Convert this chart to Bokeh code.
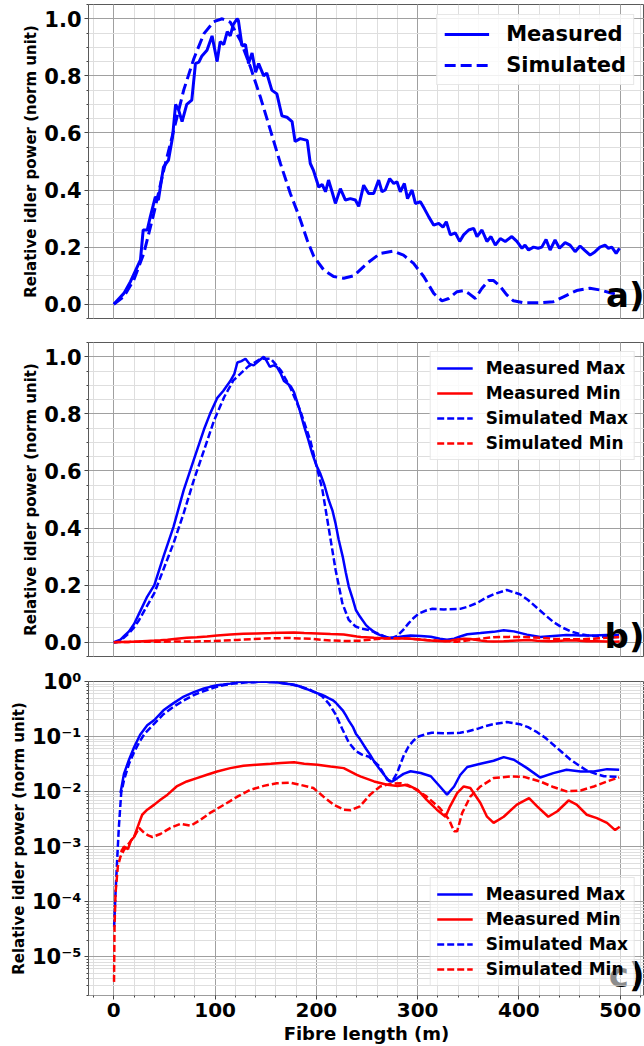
from bokeh.plotting import figure
from bokeh.layouts import column
from bokeh.models import (Range1d, SingleIntervalTicker, FixedTicker, Label,
                          CustomJSTickFormatter, PrintfTickFormatter)
from bokeh.embed import file_html
from bokeh.resources import INLINE

# ---------------- data ----------------
# panel a) measured / simulated relative idler power
a_meas_x = [0, 9.9, 16.4, 23, 26.3, 29, 33, 36, 41, 44, 49, 54, 58, 61, 64, 67.4, 72, 77, 80.6, 84, 87,
            92, 97, 102, 105, 108.6, 112, 115, 118, 121.7, 123, 126.6, 130, 133, 136.5, 140, 143, 148, 151,
            156, 161, 166, 171, 176, 179, 184, 191, 194, 197, 202.4, 205.7, 209, 212, 215.5, 218.8, 223.7,
            228.7, 233.6, 238.5, 241.8, 246.7, 251.6, 256.6, 261.5, 264.8, 268, 272.4, 276.4, 279.6, 282.9,
            286.9, 290, 294.5, 297.8, 302.7, 306.6, 311, 315.9, 320.8, 325, 328.3, 332.3, 337.2, 341.5,
            345.4, 350.4, 355.3, 358.6, 363.5, 368.4, 372.4, 376.7, 381.6, 386.5, 393, 398, 403, 406,
            409.5, 414.4, 419, 422.6, 426.8, 430.8, 435.7, 440, 445.6, 450.5, 455.5, 460.4, 465.3, 470.3,
            475.2, 480, 485, 488.4, 491.7, 496, 499.3]
a_meas_y = [0.0, 0.038, 0.079, 0.13, 0.155, 0.26, 0.26, 0.306, 0.376, 0.365, 0.48, 0.505, 0.585, 0.70,
            0.68, 0.64, 0.70, 0.715, 0.843, 0.848, 0.87, 0.89, 0.94, 0.85, 0.92, 0.91, 0.955, 0.94, 0.98,
            1.0, 0.994, 0.905, 0.91, 0.843, 0.88, 0.813, 0.843, 0.80, 0.81, 0.75, 0.737, 0.66, 0.655, 0.64,
            0.57, 0.58, 0.574, 0.493, 0.47, 0.41, 0.42, 0.394, 0.435, 0.394, 0.353, 0.405, 0.365, 0.37,
            0.365, 0.343, 0.417, 0.388, 0.388, 0.435, 0.394, 0.40, 0.44, 0.423, 0.429, 0.394, 0.423, 0.37,
            0.40, 0.353, 0.359, 0.335, 0.306, 0.277, 0.283, 0.27, 0.289, 0.243, 0.25, 0.22, 0.243, 0.26,
            0.266, 0.237, 0.26, 0.22, 0.237, 0.207, 0.23, 0.22, 0.237, 0.22, 0.196, 0.207, 0.19, 0.20,
            0.196, 0.20, 0.227, 0.19, 0.225, 0.196, 0.216, 0.207, 0.184, 0.204, 0.188, 0.172, 0.184, 0.20,
            0.207, 0.196, 0.20, 0.178, 0.196]
a_sim_x = [0, 9.9, 19.7, 29.6, 39.5, 49.3, 59.2, 69, 79, 89, 98.7, 107, 115, 125, 135, 144.7, 154.6,
           164.5, 174.3, 184, 190.9, 197.5, 207.3, 217, 227, 237, 250, 263, 276, 286, 296, 306, 315.9,
           324, 330.7, 338.9, 345.5, 350.4, 357, 363.5, 370, 375, 381.6, 388, 394.6, 404.5, 421, 434, 444,
           457, 470, 480, 490, 499]
a_sim_y = [0.0, 0.027, 0.085, 0.178, 0.318, 0.47, 0.61, 0.75, 0.86, 0.948, 0.99, 1.0, 0.988, 0.924,
           0.83, 0.726, 0.61, 0.493, 0.388, 0.298, 0.225, 0.167, 0.12, 0.097, 0.091, 0.10, 0.143, 0.178,
           0.186, 0.172, 0.143, 0.097, 0.038, 0.012, 0.02, 0.044, 0.048, 0.038, 0.02, 0.056, 0.083, 0.083,
           0.062, 0.033, 0.012, 0.005, 0.005, 0.009, 0.026, 0.048, 0.056, 0.05, 0.04, 0.033]

# panels b) and c): max / min envelopes
mmax_x = [0, 6.6, 10, 15, 20, 26, 33, 40, 49, 59, 69, 79, 89, 95, 102, 108, 115, 119, 122, 126, 130, 134,
          138, 143, 148, 151, 154, 158, 161, 165, 168, 172, 175, 178, 183, 188, 192, 196, 200, 204, 208,
          212, 216, 219, 222, 226, 229, 232, 236, 239, 243, 249, 253, 258, 263, 268, 272, 275, 280, 286,
          293, 303, 313, 322, 329, 336, 342, 349, 362, 375, 385, 395, 408, 421, 434, 447, 461, 474, 487,
          499]
mmax_y = [0.0, 0.0094, 0.021, 0.038, 0.064, 0.108, 0.16, 0.20, 0.30, 0.405, 0.533, 0.64, 0.745, 0.80,
          0.855, 0.88, 0.915, 0.94, 0.98, 0.985, 0.993, 0.975, 0.97, 0.985, 1.0, 0.985, 0.965, 0.97, 0.965,
          0.94, 0.915, 0.905, 0.895, 0.875, 0.82, 0.755, 0.71, 0.66, 0.62, 0.59, 0.55, 0.50, 0.46, 0.415,
          0.36, 0.30, 0.245, 0.195, 0.15, 0.113, 0.09, 0.06, 0.047, 0.033, 0.025, 0.019, 0.0155, 0.0153,
          0.0176, 0.021, 0.0234, 0.0218, 0.019, 0.0124, 0.0088, 0.0124, 0.020, 0.028, 0.032, 0.0363,
          0.0423, 0.038, 0.0267, 0.018, 0.0217, 0.025, 0.0232, 0.0232, 0.0256, 0.025]
mmin_x = [0, 7, 10, 14, 17, 20, 25, 28, 33, 40, 46, 53, 62, 72, 82, 92, 102, 115, 128, 141, 155, 165, 178,
          188, 201, 214, 227, 240, 244, 257, 270, 280, 290, 300, 309, 319, 327.5, 332, 339, 345.5, 352,
          362, 368.5, 375, 385, 398, 410, 418, 429, 438, 449, 457, 467, 477, 487, 495, 499.5]
mmin_y = [0.0, 0.0008, 0.0010, 0.0009, 0.0013, 0.0015, 0.0027, 0.0038, 0.0047, 0.0058, 0.0071, 0.0088,
          0.0124, 0.0153, 0.0176, 0.0202, 0.0232, 0.0267, 0.0295, 0.0307, 0.032, 0.033, 0.034, 0.032,
          0.0307, 0.0286, 0.0267, 0.0202, 0.0187, 0.0153, 0.0133, 0.0127, 0.0133, 0.0108, 0.0071, 0.0047,
          0.0035, 0.0054, 0.0094, 0.0124, 0.0116, 0.0062, 0.0035, 0.0027, 0.0035, 0.0058, 0.0076, 0.0054,
          0.0035, 0.0044, 0.0069, 0.0058, 0.0038, 0.0033, 0.0027, 0.0020, 0.0023]
smax_x = [0, 0.3, 1.7, 3.3, 5, 7.3, 10, 15, 20, 25, 30, 40, 49, 59, 69, 79, 89, 99, 109, 118, 132, 145,
          155, 165, 174, 184, 194, 200, 206, 212.5, 219, 225.7, 232, 238.8, 245, 252, 262, 270, 274.8,
          279.7, 286, 291, 296, 301, 309, 314, 326, 342, 350, 359, 367, 375, 388, 401, 409, 418, 426, 434,
          442, 451, 459, 467, 476, 484, 499]
smax_y = [0.0, 3.5e-5, 1.45e-4, 5.8e-4, 2.3e-3, 0.0095, 0.016, 0.032, 0.052, 0.078, 0.11, 0.172, 0.255,
          0.347, 0.452, 0.568, 0.672, 0.777, 0.859, 0.917, 0.964, 0.993, 0.993, 0.952, 0.894, 0.812,
          0.707, 0.62, 0.533, 0.393, 0.253, 0.136, 0.078, 0.055, 0.047, 0.043, 0.029, 0.0164, 0.0153,
          0.0218, 0.044, 0.066, 0.085, 0.10, 0.112, 0.117, 0.115, 0.117, 0.125, 0.138, 0.155, 0.168,
          0.183, 0.168, 0.148, 0.12, 0.095, 0.071, 0.053, 0.038, 0.03, 0.0242, 0.021, 0.019, 0.0185]
smin_x = [0, 0.2, 0.7, 1.7, 4, 6.6, 10, 15, 20, 25, 30, 34, 38, 46, 56, 66, 76, 86, 95, 109, 122, 135, 148,
          161, 174, 184, 197, 207, 217, 227, 234, 243, 253, 263, 273, 283, 296, 309, 322, 331, 336, 339,
          344, 352, 362, 375, 392, 405, 421, 434, 447, 461, 474, 487, 499]
smin_y = [0.0, 3.5e-6, 3.5e-5, 1.45e-4, 4.4e-4, 6.6e-4, 8.7e-4, 1.15e-3, 1.5e-3, 2.2e-3, 1.77e-3, 1.6e-3,
          1.5e-3, 1.7e-3, 2.2e-3, 2.6e-3, 2.4e-3, 3.1e-3, 4.1e-3, 5.8e-3, 8.1e-3, 0.0108, 0.0127, 0.0142,
          0.0146, 0.0133, 0.0116, 0.0081, 0.0058, 0.0047, 0.0046, 0.0054, 0.0088, 0.0124, 0.0138, 0.0142,
          0.0116, 0.0081, 0.005, 0.0031, 0.0019, 0.0019, 0.0041, 0.0081, 0.0124, 0.0176, 0.0188, 0.0185,
          0.0153, 0.0121, 0.0101, 0.0105, 0.0124, 0.0153, 0.0181]

x_ticks_interval = 100
y_label = "Relative idler power (norm unit)"
x_label = "Fibre length (m)"
panel_tags = ["a)", "b)", "c)"]

# ---------------- styling ----------------
FONT = "DejaVu Sans"
BLUE = "#0000ff"
RED = "#ff0000"
X_END = 524
x_range = Range1d(-25, X_END)


def base_fig(height, top, bottom, yr, log=False, show_x=False):
    kw = dict(width=644, height=height, x_range=x_range, y_range=yr,
              min_border_left=88, min_border_right=0, min_border_top=top, min_border_bottom=bottom,
              output_backend="svg", toolbar_location=None)
    if log:
        kw["y_axis_type"] = "log"
    if not show_x:
        kw["x_axis_location"] = None
    p = figure(**kw)
    p.outline_line_color = "#5a5a5a"
    p.outline_line_width = 1
    p.background_fill_color = "white"
    xt = SingleIntervalTicker(interval=x_ticks_interval, num_minor_ticks=5)
    if show_x:
        p.xaxis.ticker = xt
    p.xgrid.ticker = xt
    for ax in list(p.xaxis) + list(p.yaxis):
        ax.axis_line_color = None
        ax.major_tick_line_color = "#444444"
        ax.minor_tick_line_color = "#444444"
        ax.major_tick_out = 4
        ax.major_tick_in = 0
        ax.minor_tick_out = 2
        ax.minor_tick_in = 0
        ax.major_label_text_font = FONT
        ax.major_label_text_font_style = "bold"
        ax.major_label_text_font_size = "21px"
        ax.major_label_text_color = "black"
        ax.axis_label_text_font = FONT
        ax.axis_label_text_font_style = "bold"
        ax.axis_label_text_color = "black"
    for g in (p.xgrid, p.ygrid):
        g.grid_line_color = "#a0a0a0"
        g.grid_line_width = 1
        g.minor_grid_line_color = "#dedede"
        g.minor_grid_line_width = 1
    p.yaxis.axis_label = y_label
    p.yaxis.axis_label_text_font_size = "15px"
    p.yaxis.axis_label_standoff = 1
    p.yaxis.major_label_standoff = 3
    return p


def lin_y(p):
    yt = SingleIntervalTicker(interval=0.2, num_minor_ticks=4)
    p.yaxis.ticker = yt
    p.ygrid.ticker = yt
    p.yaxis.formatter = PrintfTickFormatter(format="%.1f")


def legend_style(p, size, gw, gh, standoff, pad, spacing, margin, loc, alpha=0.85):
    lg = p.legend[0]
    lg.location = loc
    lg.label_text_font = FONT
    lg.label_text_font_style = "bold"
    lg.label_text_font_size = size
    lg.label_text_color = "black"
    lg.glyph_width = gw
    lg.glyph_height = gh
    lg.label_height = gh
    lg.label_standoff = standoff
    lg.padding = pad
    lg.spacing = spacing
    lg.margin = margin
    lg.border_line_color = "#d0d0d0"
    lg.border_line_width = 1
    lg.background_fill_alpha = alpha
    lg.level = "annotation"


def tag(p, y, text):
    p.add_layout(Label(x=X_END, y=y, text=text, text_font=FONT, text_font_style="bold",
                       text_font_size="34px", text_baseline="bottom", text_align="right",
                       text_color="black", level="overlay"))


# ---------------- panel a ----------------
pa = base_fig(342, 4, 24, Range1d(-0.05, 1.05))
lin_y(pa)
pa.line(a_meas_x, a_meas_y, color=BLUE, line_width=3, legend_label="Measured")
pa.line(a_sim_x, a_sim_y, color=BLUE, line_width=3, line_dash="11 5", legend_label="Simulated")
legend_style(pa, "21px", 45, 24, 17, 7, 7, 10, "top_right")
tag(pa, -0.038, panel_tags[0])

# ---------------- panel b ----------------
pb = base_fig(327, 0, 13, Range1d(-0.05, 1.05))
lin_y(pb)
pb.line(mmax_x, mmax_y, color=BLUE, line_width=2.5, legend_label="Measured Max")
pb.line(mmin_x, mmin_y, color=RED, line_width=2.5, legend_label="Measured Min")
pb.line(smax_x, smax_y, color=BLUE, line_width=2.5, line_dash="7 3", legend_label="Simulated Max")
pb.line(smin_x, smin_y, color=RED, line_width=2.5, line_dash="7 3", legend_label="Simulated Min")
legend_style(pb, "17px", 36, 20, 13, 6, 5, 9, "top_right")
tag(pb, -0.047, panel_tags[1])

# ---------------- panel c ----------------
pc = base_fig(377, 12, 51, Range1d(1.98e-6, 1.0), log=True, show_x=True)
decades = [10.0 ** k for k in range(-6, 1)]
minors = [m * 10.0 ** k for k in range(-6, 0) for m in range(2, 10)]
lt = FixedTicker(ticks=decades, minor_ticks=minors)
pc.yaxis.ticker = lt
pc.ygrid.ticker = lt
pc.yaxis.formatter = CustomJSTickFormatter(code="""
const e = Math.round(Math.log10(tick));
const sup = {'-':'\u207b','0':'\u2070','1':'\u00b9','2':'\u00b2','3':'\u00b3','4':'\u2074',
             '5':'\u2075','6':'\u2076','7':'\u2077','8':'\u2078','9':'\u2079'};
return '10' + String(e).split('').map(c => sup[c]).join('');
""")
pc.xaxis.axis_label = x_label
pc.xaxis.axis_label_text_font_size = "18px"
pc.xaxis.axis_label_standoff = 3
pc.xaxis.major_label_standoff = 3
pc.xaxis.major_label_text_font_size = "20px"


def pos(xs, ys):
    pts = [(x, y) for x, y in zip(xs, ys) if y > 0]
    return [q[0] for q in pts], [q[1] for q in pts]


pc.line(*pos(mmax_x, mmax_y), color=BLUE, line_width=2.5, legend_label="Measured Max")
pc.line(*pos(mmin_x, mmin_y), color=RED, line_width=2.5, legend_label="Measured Min")
pc.line(*pos(smax_x, smax_y), color=BLUE, line_width=2.5, line_dash="7 3", legend_label="Simulated Max")
pc.line(*pos(smin_x, smin_y), color=RED, line_width=2.5, line_dash="7 3", legend_label="Simulated Min")
legend_style(pc, "17px", 36, 20, 13, 6, 5, 9, "bottom_right", alpha=0.55)
tag(pc, 2.02e-6, panel_tags[2])

layout = column(pa, pb, pc, spacing=0)
open("out.html", "w").write(file_html(layout, INLINE))
